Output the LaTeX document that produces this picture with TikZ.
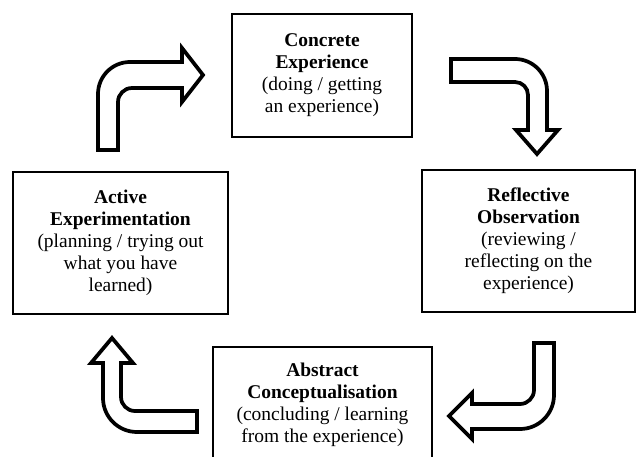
\documentclass[tikz,border=0pt]{standalone}
\usepackage{fontspec}
\setmainfont{Liberation Serif}
\usetikzlibrary{positioning}

\begin{document}
\begin{tikzpicture}[x=0.75pt,y=-0.75pt,
  stagebox/.style={draw, line width=1.5pt, align=center, inner sep=0pt,
    font=\fontsize{14.6}{16.5}\selectfont},
  bentarrow/.style={draw, line width=2.8pt, line join=miter}]
  \path[use as bounding box, clip] (0,0) rectangle (636,457);

  \node[stagebox, minimum width=135pt, minimum height=92pt] (concrete) at (322,75.5)
    {\textbf{Concrete}\\\textbf{Experience}\\(doing / getting\\an experience)};
  \node[stagebox, minimum width=160pt, minimum height=106.5pt] (reflective) at (528.5,241)
    {\textbf{Reflective}\\\textbf{Observation}\\(reviewing /\\reflecting on the\\experience)};
  \node[stagebox, minimum width=164pt, minimum height=87pt] (abstract) at (322.5,405)
    {\textbf{Abstract}\\\textbf{Conceptualisation}\\(concluding / learning\\from the experience)};
  \node[stagebox, minimum width=161pt, minimum height=106.5pt] (active) at (120.5,243)
    {\textbf{Active}\\\textbf{Experimentation}\\(planning / trying out\\what you have\\learned)};

  \draw[bentarrow] (98,150) -- (98,94) .. controls (98,76.3) and (112.3,62) .. (130,62) -- (182,62)
    -- (182,48) -- (203,75) -- (182,102) -- (182,88) -- (132,88)
    .. controls (124.3,88) and (118,94.3) .. (118,102) -- (118,150) -- cycle;
  \draw[bentarrow] (451,59) -- (515,59) .. controls (532.7,59) and (547,73.3) .. (547,91) -- (547,130)
    -- (558,130) -- (537,154) -- (516,130) -- (528,130) -- (528,95)
    .. controls (528,87.8) and (522.2,82) .. (515,82) -- (451,82) -- cycle;
  \draw[bentarrow] (534,343) -- (554,343) -- (554,395) .. controls (554,413.8) and (538.8,429) .. (520,429)
    -- (472,429) -- (472,439) -- (449,416) -- (472,393) -- (472,404) -- (520,404)
    .. controls (527.7,404) and (534,397.7) .. (534,390) -- cycle;
  \draw[bentarrow] (197,411) -- (197,432) -- (137,432) .. controls (118.2,432) and (103,416.8) .. (103,398)
    -- (103,363) -- (91,363) -- (112,338) -- (133,363) -- (121,363) -- (121,397)
    .. controls (121,404.7) and (127.3,411) .. (135,411) -- cycle;
\end{tikzpicture}
\end{document}
